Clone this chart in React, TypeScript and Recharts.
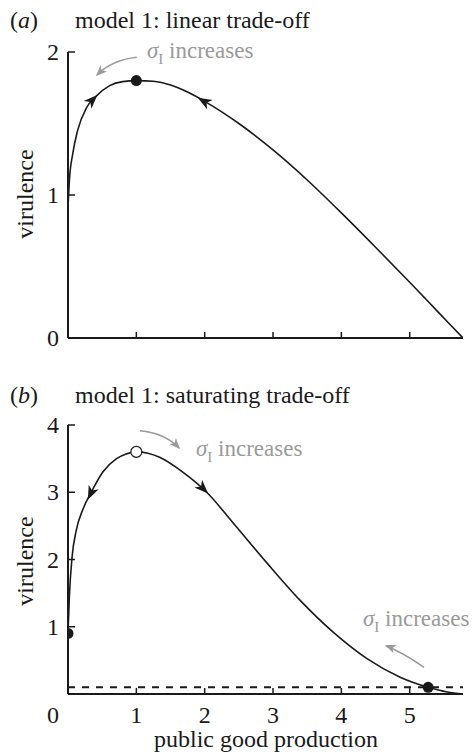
import React from 'react';
import {
  ComposedChart,
  Line,
  Scatter,
  XAxis,
  YAxis,
  ReferenceLine,
} from 'recharts';

// panel (a): linear trade-off curve
const topX = [0, 0.02, 0.07, 0.14, 0.27, 0.41, 0.61, 0.8, 1.0, 1.25, 1.5, 1.75, 2.0, 2.5, 3.0, 3.5, 4.0, 4.5, 5.0, 5.4, 5.78];
const topY = [0.92, 1.1, 1.29, 1.45, 1.61, 1.69, 1.765, 1.793, 1.8, 1.795, 1.77, 1.72, 1.655, 1.5, 1.315, 1.105, 0.875, 0.635, 0.39, 0.19, 0];
const topStable = [{ x: 1.0, y: 1.8 }];
const topArrows = [
  { x: 0.43, y: 1.7, angle: -45 },
  { x: 1.9, y: 1.68, angle: -150 },
];

// panel (b): saturating trade-off curve
const botX = [0, 0.02, 0.06, 0.12, 0.22, 0.34, 0.51, 0.71, 0.85, 1.0, 1.17, 1.34, 1.68, 2.03, 2.42, 2.91, 3.39, 3.88, 4.37, 4.86, 5.27, 5.55, 5.78];
const botY = [0.9, 1.45, 2.04, 2.43, 2.75, 3.0, 3.3, 3.5, 3.57, 3.6, 3.58, 3.52, 3.3, 3.0, 2.54, 1.95, 1.4, 0.92, 0.53, 0.25, 0.1, 0.03, 0];
const botStable = [{ x: 0, y: 0.9 }, { x: 5.27, y: 0.1 }];
const botUnstable = [{ x: 1.0, y: 3.6 }];
const botArrows = [
  { x: 0.29, y: 2.89, angle: 115 },
  { x: 2.05, y: 2.98, angle: 45 },
];
const botThreshold = 0.1;

const topXTicks = [1, 2, 3, 4, 5];
const topYTicks = [0, 1, 2];
const botXTicks = [0, 1, 2, 3, 4, 5];
const botYTicks = [1, 2, 3, 4];

const topCurve = topX.map((x, i) => ({ x, y: topY[i] }));
const botCurve = botX.map((x, i) => ({ x, y: botY[i] }));

const FONT = '"Liberation Serif", "Times New Roman", serif';
const INK = '#1a1a1a';
const GREY = '#9a9a9a';

function XTick(props: any) {
  const { x, y, payload, withLabel } = props;
  const v = payload.value;
  return (
    <g>
      {v !== 0 && <line x1={x} x2={x} y1={y} y2={y - 6} stroke={INK} strokeWidth={1.5} />}
      {withLabel && (
        <text x={v === 0 ? x - 15 : x} y={y + 29} textAnchor="middle" fontSize={24} fontFamily={FONT} fill={INK}>
          {v}
        </text>
      )}
    </g>
  );
}

function YTick(props: any) {
  const { x, y, payload } = props;
  return (
    <g>
      <line x1={x} x2={x + 7} y1={y} y2={y} stroke={INK} strokeWidth={1.5} />
      <text x={x - 9} y={y + 8} textAnchor="end" fontSize={24} fontFamily={FONT} fill={INK}>
        {payload.value}
      </text>
    </g>
  );
}

function ArrowHead(props: any) {
  const { cx, cy, payload } = props;
  return (
    <path
      d="M0,0 L-14,-5.5 L-10,0 L-14,5.5 Z"
      fill={INK}
      transform={`translate(${cx},${cy}) rotate(${payload.angle})`}
    />
  );
}

const FilledDot = (props: any) => <circle cx={props.cx} cy={props.cy} r={5.5} fill={INK} />;
const OpenDot = (props: any) => (
  <circle cx={props.cx} cy={props.cy} r={5.5} fill="#fff" stroke={INK} strokeWidth={1.2} />
);

function Sigma({ x, y }: { x: number; y: number }) {
  return (
    <text x={x} y={y} fontSize={23} fontFamily={FONT} fill={GREY}>
      <tspan fontStyle="italic">σ</tspan>
      <tspan fontSize={15} dy={6}>I</tspan>
      <tspan dy={-6}> increases</tspan>
    </text>
  );
}

function GreyArrow({ d, tx, ty, angle }: { d: string; tx: number; ty: number; angle: number }) {
  return (
    <g>
      <path d={d} fill="none" stroke={GREY} strokeWidth={1.6} />
      <path d="M0,0 L-11,-4.5 L-8,0 L-11,4.5 Z" fill={GREY} transform={`translate(${tx},${ty}) rotate(${angle})`} />
    </g>
  );
}

export default function App() {
  return (
    <div style={{ position: 'absolute', left: 0, top: 0, width: 476, height: 756, background: '#fff' }}>
      <div style={{ position: 'absolute', left: 0, top: 0 }}>
        <ComposedChart width={476} height={370} margin={{ top: 52, right: 13, bottom: 2, left: 8 }}>
          <XAxis
            type="number"
            dataKey="x"
            domain={[0, 5.78]}
            allowDataOverflow
            ticks={topXTicks}
            interval={0}
            height={30}
            tickSize={0}
            tickMargin={0}
            tick={<XTick withLabel={false} />}
            axisLine={{ stroke: INK, strokeWidth: 2 }}
          />
          <YAxis
            type="number"
            dataKey="y"
            domain={[0, 2]}
            allowDataOverflow
            ticks={topYTicks}
            interval={0}
            width={60}
            tickSize={0}
            tickMargin={0}
            tick={<YTick />}
            axisLine={{ stroke: INK, strokeWidth: 2 }}
          />
          <Line data={topCurve} dataKey="y" type="monotone" stroke={INK} strokeWidth={1.6} dot={false} isAnimationActive={false} />
          <Scatter data={topArrows} shape={ArrowHead} isAnimationActive={false} />
          <Scatter data={topStable} shape={FilledDot} isAnimationActive={false} />
        </ComposedChart>
      </div>

      <div style={{ position: 'absolute', left: 0, top: 380 }}>
        <ComposedChart width={476} height={376} margin={{ top: 45, right: 13, bottom: 2, left: 8 }}>
          <XAxis
            type="number"
            dataKey="x"
            domain={[0, 5.78]}
            allowDataOverflow
            ticks={botXTicks}
            interval={0}
            height={60}
            tickSize={0}
            tickMargin={0}
            tick={<XTick withLabel />}
            axisLine={{ stroke: INK, strokeWidth: 2 }}
          />
          <YAxis
            type="number"
            dataKey="y"
            domain={[0, 4]}
            allowDataOverflow
            ticks={botYTicks}
            interval={0}
            width={60}
            tickSize={0}
            tickMargin={0}
            tick={<YTick />}
            axisLine={{ stroke: INK, strokeWidth: 2 }}
          />
          <ReferenceLine y={botThreshold} stroke={INK} strokeWidth={2} strokeDasharray="7 7" />
          <Line data={botCurve} dataKey="y" type="monotone" stroke={INK} strokeWidth={1.6} dot={false} isAnimationActive={false} />
          <Scatter data={botArrows} shape={ArrowHead} isAnimationActive={false} />
          <Scatter data={botStable} shape={FilledDot} isAnimationActive={false} />
          <Scatter data={botUnstable} shape={OpenDot} isAnimationActive={false} />
        </ComposedChart>
      </div>

      <svg width={476} height={756} style={{ position: 'absolute', left: 0, top: 0, pointerEvents: 'none' }}>
        <text x={10} y={28} fontSize={24} fontFamily={FONT} fill={INK}>
          (<tspan fontStyle="italic">a</tspan>)
        </text>
        <text x={75} y={28} fontSize={24} fontFamily={FONT} fill={INK}>model 1: linear trade-off</text>
        <text x={10} y={403} fontSize={24} fontFamily={FONT} fill={INK}>
          (<tspan fontStyle="italic">b</tspan>)
        </text>
        <text x={75} y={403} fontSize={24} fontFamily={FONT} fill={INK}>model 1: saturating trade-off</text>

        <text transform="translate(33,194) rotate(-90)" textAnchor="middle" fontSize={24} fontFamily={FONT} fill={INK}>virulence</text>
        <text transform="translate(33,561) rotate(-90)" textAnchor="middle" fontSize={24} fontFamily={FONT} fill={INK}>virulence</text>
        <text x={266} y={747} textAnchor="middle" fontSize={24} fontFamily={FONT} fill={INK}>public good production</text>

        <Sigma x={147} y={58} />
        <GreyArrow d="M136.7,57.3 Q112,60 97,75" tx={96} ty={76} angle={135} />

        <Sigma x={196} y={456} />
        <GreyArrow d="M140,430.7 Q165,433 179,448" tx={180} ty={449} angle={47} />

        <Sigma x={363} y={626} />
        <GreyArrow d="M424,667.3 Q402,652 386,646" tx={385} ty={645} angle={202} />
      </svg>
    </div>
  );
}
